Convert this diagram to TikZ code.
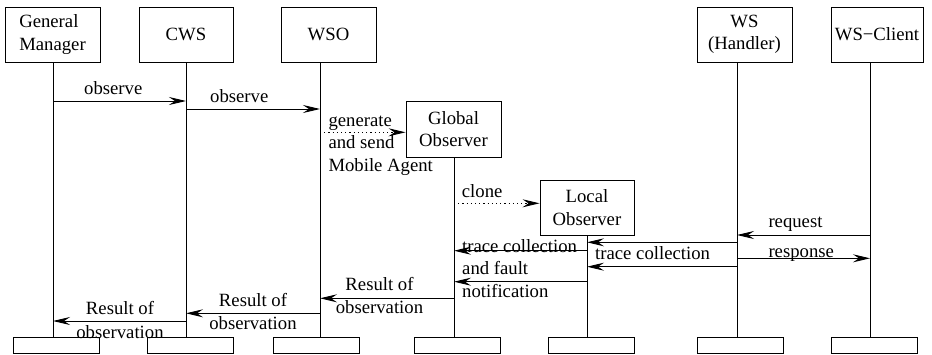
\documentclass[tikz,border=0pt]{standalone}
\usepackage{fontspec}
\setmainfont{Liberation Serif}
\usetikzlibrary{arrows.meta}
\begin{document}
\begin{tikzpicture}[x=1pt,y=-1pt,
  every node/.style={font=\fontsize{18.7}{22.5}\selectfont, inner sep=0pt},
  box/.style={draw, line width=0.9pt, align=center},
  foot/.style={draw, line width=0.9pt, minimum width=86pt, minimum height=16pt},
  life/.style={line width=0.9pt},
  msg/.style={line width=0.9pt, -{Stealth[length=17pt,width=8pt,inset=6pt]}},
  dmsg/.style={msg, dash pattern=on 1.2pt off 3pt},
  lbl/.style={anchor=base west},
  clbl/.style={anchor=base}]
\useasboundingbox (0,0) rectangle (932,354);

% header boxes
\node[box, align=left, minimum width=95pt, minimum height=55pt] (gm) at (52.5,34.5) {General\\Manager};
\node[box, minimum width=94pt, minimum height=55pt] (cws) at (186,34.5) {CWS};
\node[box, minimum width=95pt, minimum height=55pt] (wso) at (328.5,34.5) {WSO};
\node[box, minimum width=95pt, minimum height=55pt] (ws) at (744.5,34.5) {WS\\(Handler)};
\node[box, minimum width=92pt, minimum height=55pt] (wsc) at (877,34.5) {WS−Client};
\node[box, minimum width=95pt, minimum height=56pt] (go) at (453.5,129) {Global\\Observer};
\node[box, minimum width=94pt, minimum height=55pt] (lo) at (587,207.5) {Local\\Observer};

% foot boxes
\node[foot] (gmb) at (56.5,345) {};
\node[foot] (cwsb) at (190,345) {};
\node[foot] (wsob) at (316,345) {};
\node[foot] (gob) at (457.5,345) {};
\node[foot] (lob) at (591,345) {};
\node[foot] (wsb) at (740,345) {};
\node[foot] (wscb) at (874,345) {};

% lifeline x positions
\coordinate (gmL) at (53,0);
\coordinate (cwsL) at (186,0);
\coordinate (wsoL) at (320,0);
\coordinate (goL) at (454,0);
\coordinate (loL) at (587,0);
\coordinate (wsL) at (737,0);
\coordinate (wscL) at (870,0);

\draw[life] (gm.south -| gmL) -- (gmb.north -| gmL);
\draw[life] (cws.south -| cwsL) -- (cwsb.north -| cwsL);
\draw[life] (wso.south -| wsoL) -- (wsob.north -| wsoL);
\draw[life] (go.south -| goL) -- (gob.north -| goL);
\draw[life] (lo.south -| loL) -- (lob.north -| loL);
\draw[life] (ws.south -| wsL) -- (wsb.north -| wsL);
\draw[life] (wsc.south -| wscL) -- (wscb.north -| wscL);

% messages
\draw[msg] (gmL |- 0,101) -- (cwsL |- 0,101);
\node[lbl] (t1) at (84,94.4) {observe};
\draw[msg] (cwsL |- 0,109) -- (wsoL |- 0,109);
\node[lbl] (t2) at (210,102.7) {observe};

\draw[dmsg] (wsoL |- 0,132.3) -- (go.west |- 0,132.3);
\node[lbl] (t3a) at (328.3,126) {generate};
\node[lbl] (t3b) at (328.3,148.5) {and send};
\node[lbl] (t3c) at (328.3,171) {Mobile Agent};

\draw[dmsg] (goL |- 0,203.3) -- (lo.west |- 0,203.3);
\node[lbl] (t4) at (461.7,197.5) {clone};

\draw[msg] (wscL |- 0,235) -- (wsL |- 0,235);
\node[lbl] (t5) at (768.3,227.3) {request};

\draw[msg] (wsL |- 0,242.3) -- (loL |- 0,242.3);
\draw[msg] (wsL |- 0,266.7) -- (loL |- 0,266.7);
\node[lbl] (t6) at (595,259.5) {trace collection};

\draw[msg] (wsL |- 0,258.3) -- (wscL |- 0,258.3);
\node[lbl] (t7) at (768.3,257.5) {response};

\draw[msg] (loL |- 0,250.7) -- (goL |- 0,250.7);
\node[lbl] (t8) at (462,252) {trace collection};
\draw[msg] (loL |- 0,281.7) -- (goL |- 0,281.7);
\node[lbl] (t9a) at (462,274.5) {and fault};
\node[lbl] (t9b) at (462,297.5) {notification};

\draw[msg] (goL |- 0,298.3) -- (wsoL |- 0,298.3);
\node[clbl] (t10a) at (379.5,290.5) {Result of};
\node[clbl] (t10b) at (379.5,313.5) {observation};

\draw[msg] (wsoL |- 0,313.3) -- (cwsL |- 0,313.3);
\node[clbl] (t11a) at (253,306.5) {Result of};
\node[clbl] (t11b) at (253,329.5) {observation};

\draw[msg] (cwsL |- 0,321) -- (gmL |- 0,321);
\node[clbl] (t12a) at (120,314.5) {Result of};
\node[clbl] (t12b) at (120,338) {observation};
\end{tikzpicture}
\end{document}
